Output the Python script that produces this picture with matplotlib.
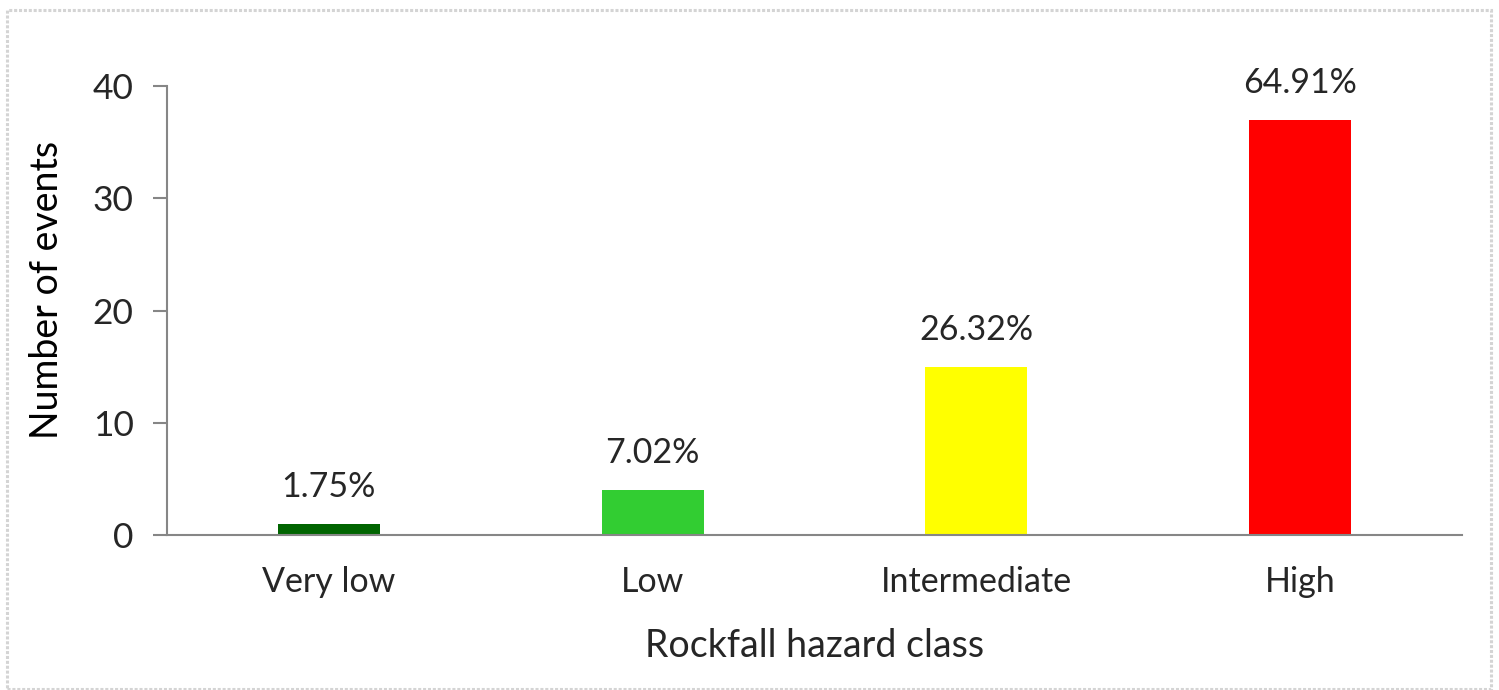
import matplotlib
matplotlib.use("Agg")
import matplotlib.pyplot as plt
from matplotlib.patches import Rectangle

categories = ["Very low", "Low", "Intermediate", "High"]
events = [1, 4, 15, 37]
shares = ["1.75%", "7.02%", "26.32%", "64.91%"]
colors = ["#006400", "#32CD32", "#FFFF00", "#FF0000"]
yticks = [0, 10, 20, 30, 40]

plt.rcParams["font.family"] = ["Lato", "DejaVu Sans"]
txt = "#262626"
axis_gray = "#868686"

fig = plt.figure(figsize=(14.99, 6.90), dpi=100)
fig.patch.set_facecolor("white")

# chart frame
fig.patches.append(Rectangle((7 / 1499, 1 / 690), 1484 / 1499, 679 / 690,
                             transform=fig.transFigure, fill=False,
                             edgecolor="#d4d4d4", linewidth=2.2,
                             linestyle=(0, (1, 0.6))))

ax = fig.add_axes([167 / 1499, 1 - 535 / 690, 1295 / 1499, 449 / 690])
x = range(len(categories))
bars = ax.bar(x, events, width=0.315, color=colors, zorder=2)

for rect, label in zip(bars, shares):
    ax.annotate(label, (rect.get_x() + rect.get_width() / 2, rect.get_height()),
                xytext=(0, 15), textcoords="offset points",
                ha="center", va="bottom", fontsize=24.5, color=txt)

ax.set_xlim(-0.5, len(categories) - 0.5)
ax.set_ylim(0, 40)
ax.set_yticks(yticks)
ax.set_xticks(list(x))
ax.set_xticklabels(categories)

for side in ("top", "right"):
    ax.spines[side].set_visible(False)
for side in ("left", "bottom"):
    ax.spines[side].set_color(axis_gray)
    ax.spines[side].set_linewidth(1.5)

ax.tick_params(axis="y", direction="out", length=10, width=1.5, color=axis_gray,
               labelsize=25.5, labelcolor=txt, pad=14)
ax.tick_params(axis="x", length=0, labelsize=24.5, labelcolor=txt, pad=22)

ax.set_ylabel("Number of events", fontsize=27, color="black")
ax.yaxis.set_label_coords(-0.079, 0.546)
ax.set_xlabel("Rockfall hazard class", fontsize=27, color=txt, labelpad=22)

fig.savefig("out.png", dpi=100, facecolor="white")
